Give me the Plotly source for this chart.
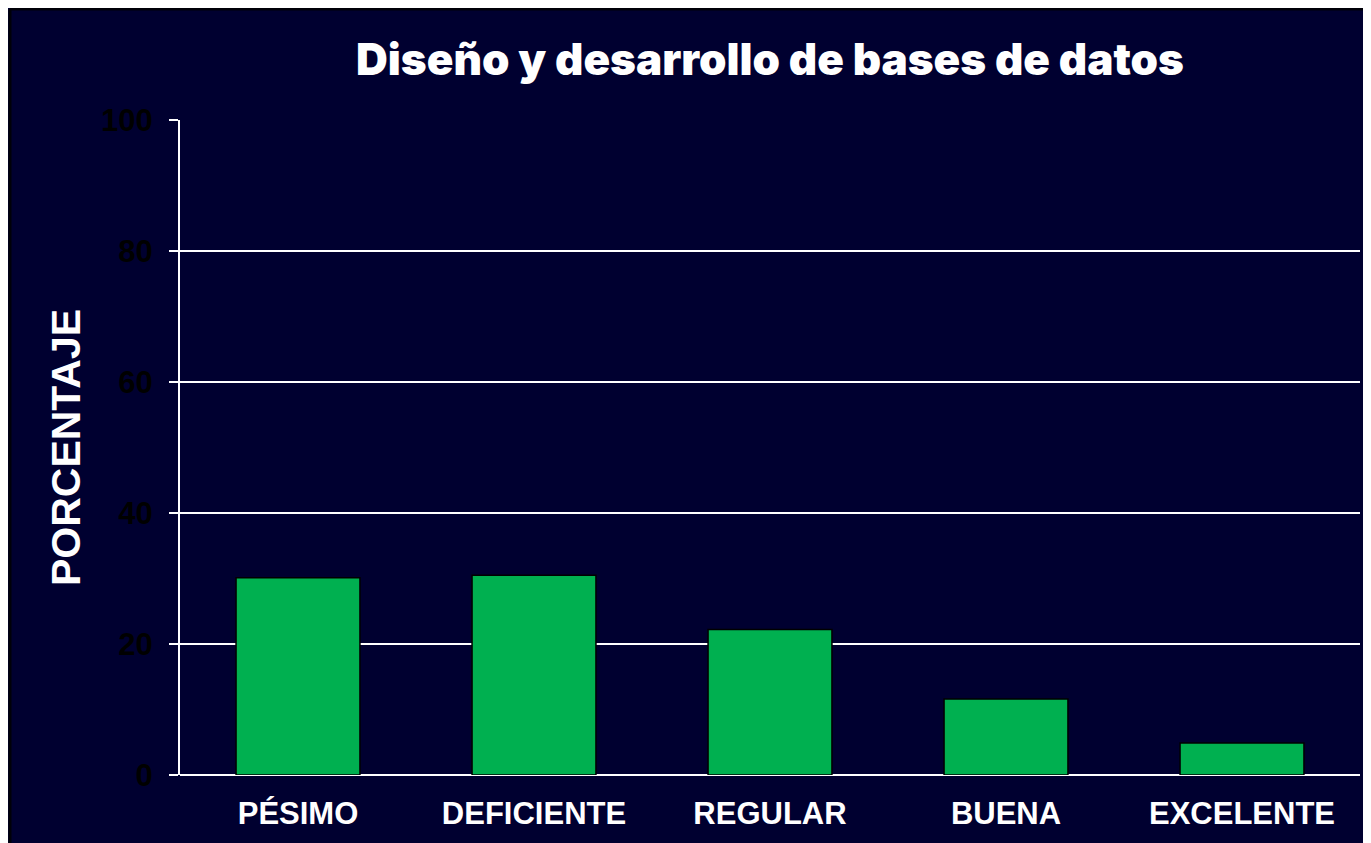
import plotly.graph_objects as go

categories = ["PÉSIMO", "DEFICIENTE", "REGULAR", "BUENA", "EXCELENTE"]
values = [30.1, 30.5, 22.2, 11.6, 4.9]
y_ticks = [0, 20, 40, 60, 80, 100]

BG = "#000030"
W, H = 1371, 843
# the page adds an 8px body margin, so margins are offset accordingly
ML, MR, MT, MB = 172, 19, 112, 76

fig = go.Figure(go.Bar(
    x=categories, y=values,
    marker=dict(color="#00B050", line=dict(color="#000000", width=1.5)),
    hoverinfo="x+y",
))

fig.update_layout(
    width=W, height=H,
    paper_bgcolor=BG, plot_bgcolor=BG,
    margin=dict(l=ML, r=MR, t=MT, b=MB),
    bargap=0.475,
    showlegend=False,
    title=dict(text="Diseño y desarrollo de bases de datos",
               font=dict(family="Inter, DejaVu Sans", size=44, color="white", weight=900),
               x=0.5, xref="paper", xanchor="center",
               y=1 - 52 / H, yref="container", yanchor="middle"),
    font=dict(family="Liberation Sans, Arial, sans-serif"),
)

fig.update_xaxes(
    showgrid=False, showline=False, zeroline=False, ticks="",
    tickfont=dict(size=31, color="white", weight="bold"),
    ticklabelstandoff=17,
)
fig.update_yaxes(
    range=[0, 100], tickvals=y_ticks,
    showgrid=True, gridcolor="white", gridwidth=2,
    zeroline=True, zerolinecolor="white", zerolinewidth=2,
    showline=True, linecolor="white", linewidth=2,
    ticks="outside", ticklen=9, tickwidth=2, tickcolor="white",
    tickfont=dict(size=31, color="black", weight="bold"),
    ticklabelstandoff=10,
    title=dict(text="PORCENTAJE", font=dict(size=41, color="white", weight="bold"), standoff=8),
)

# thin dark frame (top and left edges of the slide)
fx0 = (2 - ML) / (W - ML - MR)
fy0 = 1 + (MT - 1) / (H - MT - MB)
fig.add_shape(type="line", xref="paper", yref="paper", x0=fx0, x1=fx0, y0=fy0, y1=-1,
              line=dict(color="#000008", width=3))
fig.add_shape(type="line", xref="paper", yref="paper", x0=fx0, x1=2, y0=fy0, y1=fy0,
              line=dict(color="#000008", width=3))

fig.write_html("out.html")
